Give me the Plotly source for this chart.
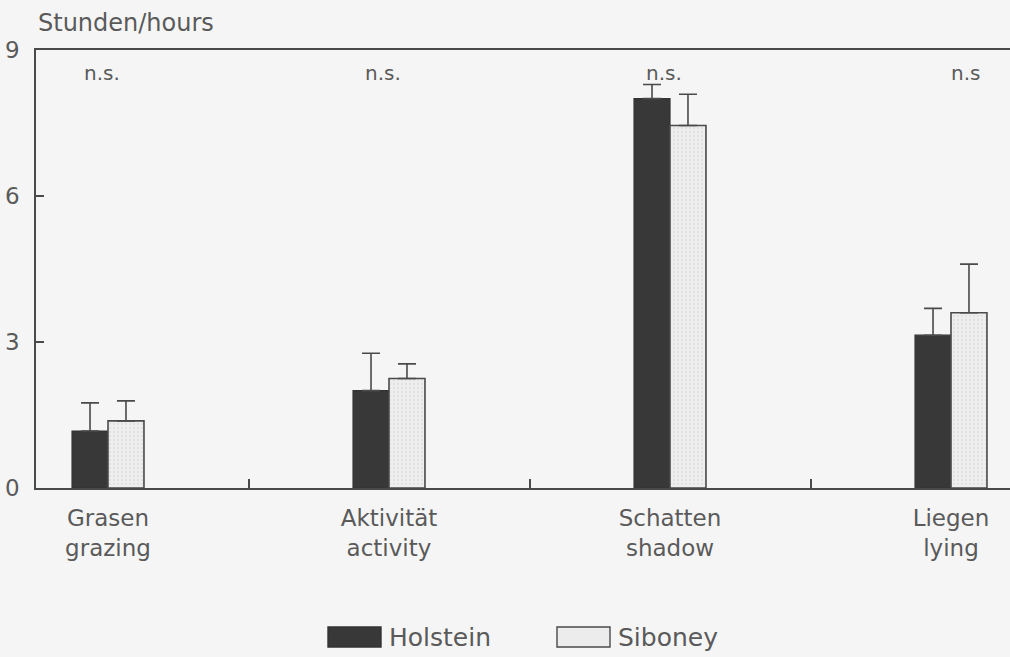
import plotly.graph_objects as go

# Behaviour categories (German / English) and mean daily hours per breed
categories = ["Grasen<br>grazing", "Aktivität<br>activity", "Schatten<br>shadow", "Liegen<br>lying"]
holstein_hours = [1.17, 2.0, 8.0, 3.14]
holstein_err = [0.58, 0.77, 0.29, 0.55]
siboney_hours = [1.38, 2.25, 7.45, 3.6]
siboney_err = [0.41, 0.30, 0.64, 1.0]
significance = ["n.s.", "n.s.", "n.s.", "n.s"]
y_ticks = [0, 3, 6, 9]

INK = "#4a4a4a"
TEXT = "#5a5a5a"
BG = "#f5f5f5"
FONT = "DejaVu Sans"

x_pos = list(range(len(categories)))

fig = go.Figure()
fig.add_trace(go.Bar(
    x=x_pos, y=holstein_hours, name="Holstein",
    marker=dict(color="#383838", line=dict(color="#333333", width=1.2)),
    error_y=dict(type="data", symmetric=False, array=holstein_err,
                 arrayminus=[0] * len(holstein_err),
                 color=INK, thickness=1.6, width=9),
))
fig.add_trace(go.Bar(
    x=x_pos, y=siboney_hours, name="Siboney",
    marker=dict(color="#ececec", line=dict(color=INK, width=1.6),
                pattern=dict(shape=".", size=4, solidity=0.25,
                             fgcolor="#d2d2d2", bgcolor="#eeeeee")),
    error_y=dict(type="data", symmetric=False, array=siboney_err,
                 arrayminus=[0] * len(siboney_err),
                 color=INK, thickness=1.6, width=9),
))

# significance marks above each group
for xi, txt in zip(x_pos, significance):
    fig.add_annotation(x=xi, y=8.53, xref="x", yref="y", text=txt,
                       showarrow=False, font=dict(family=FONT, size=20, color=TEXT),
                       xshift=-6 if txt.endswith(".") else 14)

# axis title above the frame
fig.add_annotation(x=0, y=1.062, xref="paper", yref="paper", text="Stunden/hours",
                   showarrow=False, xanchor="left", yanchor="middle",
                   font=dict(family=FONT, size=24, color=TEXT))

# legend drawn below the chart with wide swatches
legend_items = [("Holstein", "#383838", "#333333", 328), ("Siboney", "#ececec", INK, 557)]
for name, fill, edge, px in legend_items:
    x0 = (px - 36) / 974
    x1 = (px + 53 - 36) / 974
    fig.add_shape(type="rect", xref="paper", yref="paper",
                  x0=x0, x1=x1, y0=-(627 - 488) / 438, y1=-(647 - 488) / 438,
                  fillcolor=fill, line=dict(color=edge, width=1.4))
    fig.add_annotation(x=x1 + 6 / 974, y=-(637 - 488) / 438, xref="paper", yref="paper",
                       text=name, showarrow=False, xanchor="left", yanchor="middle",
                       font=dict(family=FONT, size=25, color=TEXT))

fig.update_layout(
    width=1010, height=657,
    margin=dict(l=36, r=0, t=50, b=169),
    paper_bgcolor=BG, plot_bgcolor=BG,
    barmode="group", bargap=0.744, bargroupgap=0,
    showlegend=False,
    font=dict(family=FONT, size=23, color=TEXT),
)
fig.update_xaxes(
    range=[-72 / 281, 3 + 59 / 281],
    tickmode="array", tickvals=x_pos, ticktext=categories,
    ticks="inside", ticklen=0, ticklabelstandoff=9,
    minor=dict(ticks="inside", ticklen=9, tickwidth=1.5, tickcolor=INK,
               tick0=0.5, dtick=1, showgrid=False),
    showline=True, linecolor=INK, linewidth=1.6, mirror=True,
    showgrid=False, zeroline=False,
    tickfont=dict(family=FONT, size=23, color=TEXT),
)
fig.update_yaxes(
    range=[0, 9], tickmode="array", tickvals=y_ticks,
    ticks="inside", ticklen=8, tickwidth=1.5, tickcolor=INK,
    showline=True, linecolor=INK, linewidth=1.6,
    showgrid=False, zeroline=False, ticklabelstandoff=10,
    tickfont=dict(family=FONT, size=23, color=TEXT),
)

fig.write_html("out.html")
